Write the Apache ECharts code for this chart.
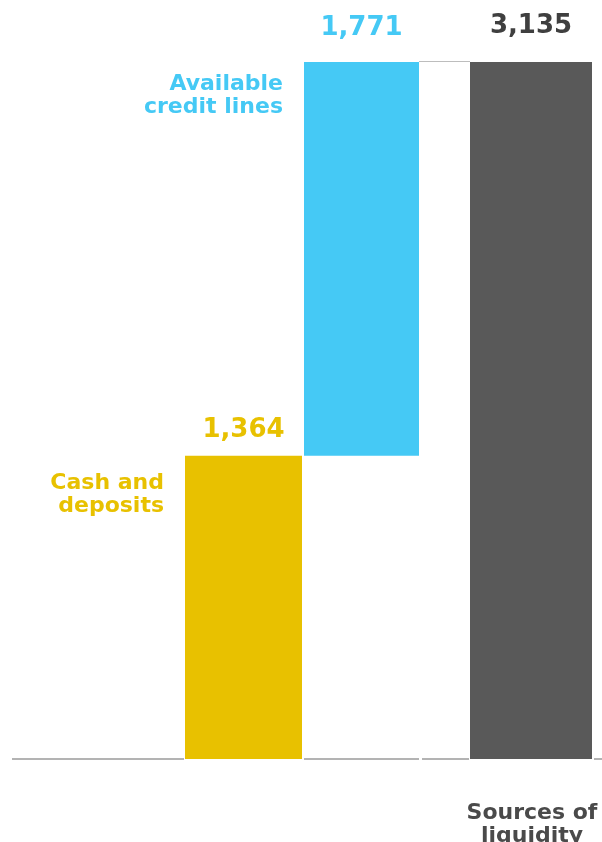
<!DOCTYPE html>
<html>
<head>
<meta charset="utf-8">
<script src="https://cdn.jsdelivr.net/npm/echarts@6/dist/echarts.min.js"></script>
<style>
  html, body { margin: 0; padding: 0; background: #ffffff; }
  #chart { width: 602px; height: 842px; }
</style>
</head>
<body>
<div id="chart"></div>
<script>
// Liquidity bridge: cash + credit lines = total sources
const categories = ['Cash and\ndeposits', 'Available\ncredit lines', 'Sources of\nliquidity'];
const amounts = [1364, 1771, 3135];
const valueLabels = ['1,364', '1,771', '3,135'];
const kinds = ['step', 'step', 'total'];

// Layout (pixel columns on a 0..602 horizontal scale)
const columns = [[185, 302], [304, 419], [470, 592]];
const baselineSegments = [[12, 184], [304, 419], [422, 469], [594, 602]];
const valueLabelGap = [25, 34, 36];
const sideLabelDrop = [39, 34];
const categoryPlacement = ['left', 'left', 'below'];

// Styles
const barColors = ['#E8C100', '#45C9F5', '#595959'];
const valueColors = ['#E8C100', '#45C9F5', '#3F3F3F'];
const categoryColors = ['#E8C100', '#45C9F5', '#4A4A4A'];
const FONT = '"DejaVu Sans", Verdana, sans-serif';

// Running totals give the floating bases of the step bars
let running = 0;
const barData = amounts.map((v, i) => {
  let lo, hi;
  if (kinds[i] === 'total') { lo = 0; hi = v; }
  else { lo = running; hi = running + v; running = hi; }
  return [columns[i][0], columns[i][1], lo, hi, i];
});

const connectorData = [[columns[1][1], columns[2][0], barData[1][3]]];

const chart = echarts.init(document.getElementById('chart'), null, { renderer: 'canvas' });

chart.setOption({
  animation: false,
  backgroundColor: '#ffffff',
  grid: { left: 0, right: 0, top: 62, bottom: 83 },
  xAxis: { type: 'value', min: 0, max: 602, show: false },
  yAxis: { type: 'value', min: 0, max: 3135, show: false },
  series: [
    {
      type: 'custom',
      name: 'baseline',
      silent: true,
      z: 1,
      data: baselineSegments.map(s => [s[0], s[1], 0]),
      renderItem: (params, api) => {
        const a = api.coord([api.value(0), api.value(2)]);
        const b = api.coord([api.value(1), api.value(2)]);
        return {
          type: 'line',
          shape: { x1: a[0], y1: a[1], x2: b[0], y2: b[1] },
          style: { stroke: '#B3B3B3', lineWidth: 2 }
        };
      }
    },
    {
      type: 'custom',
      name: 'connector',
      silent: true,
      z: 1,
      data: connectorData,
      renderItem: (params, api) => {
        const a = api.coord([api.value(0), api.value(2)]);
        const b = api.coord([api.value(1), api.value(2)]);
        return {
          type: 'line',
          shape: { x1: a[0], y1: a[1] - 0.5, x2: b[0], y2: b[1] - 0.5 },
          style: { stroke: '#BDBDBD', lineWidth: 1 }
        };
      }
    },
    {
      type: 'custom',
      name: 'bars',
      z: 2,
      data: barData,
      renderItem: (params, api) => {
        const i = api.value(4);
        const pLo = api.coord([api.value(0), api.value(2)]);
        const pHi = api.coord([api.value(1), api.value(3)]);
        const x = pLo[0], w = pHi[0] - pLo[0];
        const yTop = pHi[1], yBot = pLo[1];
        const cx = x + w / 2;
        const children = [
          {
            type: 'rect',
            shape: { x: x, y: yTop, width: w, height: yBot - yTop },
            style: { fill: barColors[i] }
          },
          {
            type: 'text',
            x: cx,
            y: yTop - valueLabelGap[i],
            style: {
              text: valueLabels[i],
              fill: valueColors[i],
              font: 'bold 26px ' + FONT,
              align: 'center',
              verticalAlign: 'middle'
            }
          }
        ];
        if (categoryPlacement[i] === 'left') {
          children.push({
            type: 'text',
            x: x - 21,
            y: yTop + sideLabelDrop[i],
            style: {
              text: categories[i],
              fill: categoryColors[i],
              font: 'bold 22px ' + FONT,
              lineHeight: 23,
              align: 'right',
              verticalAlign: 'middle'
            }
          });
        } else {
          children.push({
            type: 'text',
            x: cx + 1,
            y: yBot + 66,
            style: {
              text: categories[i],
              fill: categoryColors[i],
              font: 'bold 22px ' + FONT,
              lineHeight: 23,
              align: 'center',
              verticalAlign: 'middle'
            }
          });
        }
        return { type: 'group', children: children };
      }
    }
  ]
});
</script>
</body>
</html>
